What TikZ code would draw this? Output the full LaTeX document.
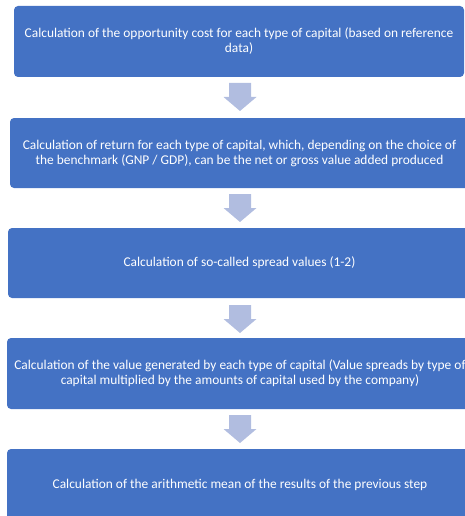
\documentclass[tikz,border=0pt]{standalone}
\usepackage{fontspec}
\setmainfont{Carlito}
\definecolor{stepblue}{HTML}{4472C4}
\definecolor{arrowgray}{HTML}{B1BDE0}
% block arrow pointing down, top centre at #1
\newcommand{\steparrow}[1]{%
    \fill[arrowgray] (#1) ++(-11,0) -- ++(22,0) -- ++(0,14) -- ++(5.5,0)
        -- ++(-16.5,14) -- ++(-16.5,-14) -- ++(5.5,0) -- cycle;}
\begin{document}
\begin{tikzpicture}[x=1pt, y=-1pt,
        box/.style={rectangle, fill=stepblue, rounded corners=4pt, align=center, text=white,
            inner sep=0pt, font=\fontsize{13.4}{15}\selectfont}
    ]
        \useasboundingbox (0,0) rectangle (465,516);
        \clip (0,0) rectangle (465,516);
        \node[box, minimum width=450pt, minimum height=71pt] (cost) at (239,41.5)
            {Calculation of the opportunity cost for each type of capital (based on reference\\data)};
        \node[box, minimum width=459pt, minimum height=70pt] (return) at (239.5,153)
            {Calculation of return for each type of capital, which, depending on the choice of\\the benchmark (GNP / GDP), can be the net or gross value added produced};
        \node[box, minimum width=463pt, minimum height=70pt] (spread) at (239.5,263)
            {Calculation of so-called spread values (1-2)};
        \node[box, minimum width=466pt, minimum height=71pt] (value) at (240,373.5)
            {Calculation of the value generated by each type of capital (Value spreads by type of\\capital multiplied by the amounts of capital used by the company)};
        \node[box, minimum width=466pt, minimum height=71pt] (mean) at (240,484.5)
            {Calculation of the arithmetic mean of the results of the previous step};
        % arrows between the steps
        \coordinate (a1) at (240,83);
        \coordinate (a2) at (240,194);
        \coordinate (a3) at (240,305);
        \coordinate (a4) at (240,415);
        \steparrow{a1}
        \steparrow{a2}
        \steparrow{a3}
        \steparrow{a4}
    \end{tikzpicture}
\end{document}
